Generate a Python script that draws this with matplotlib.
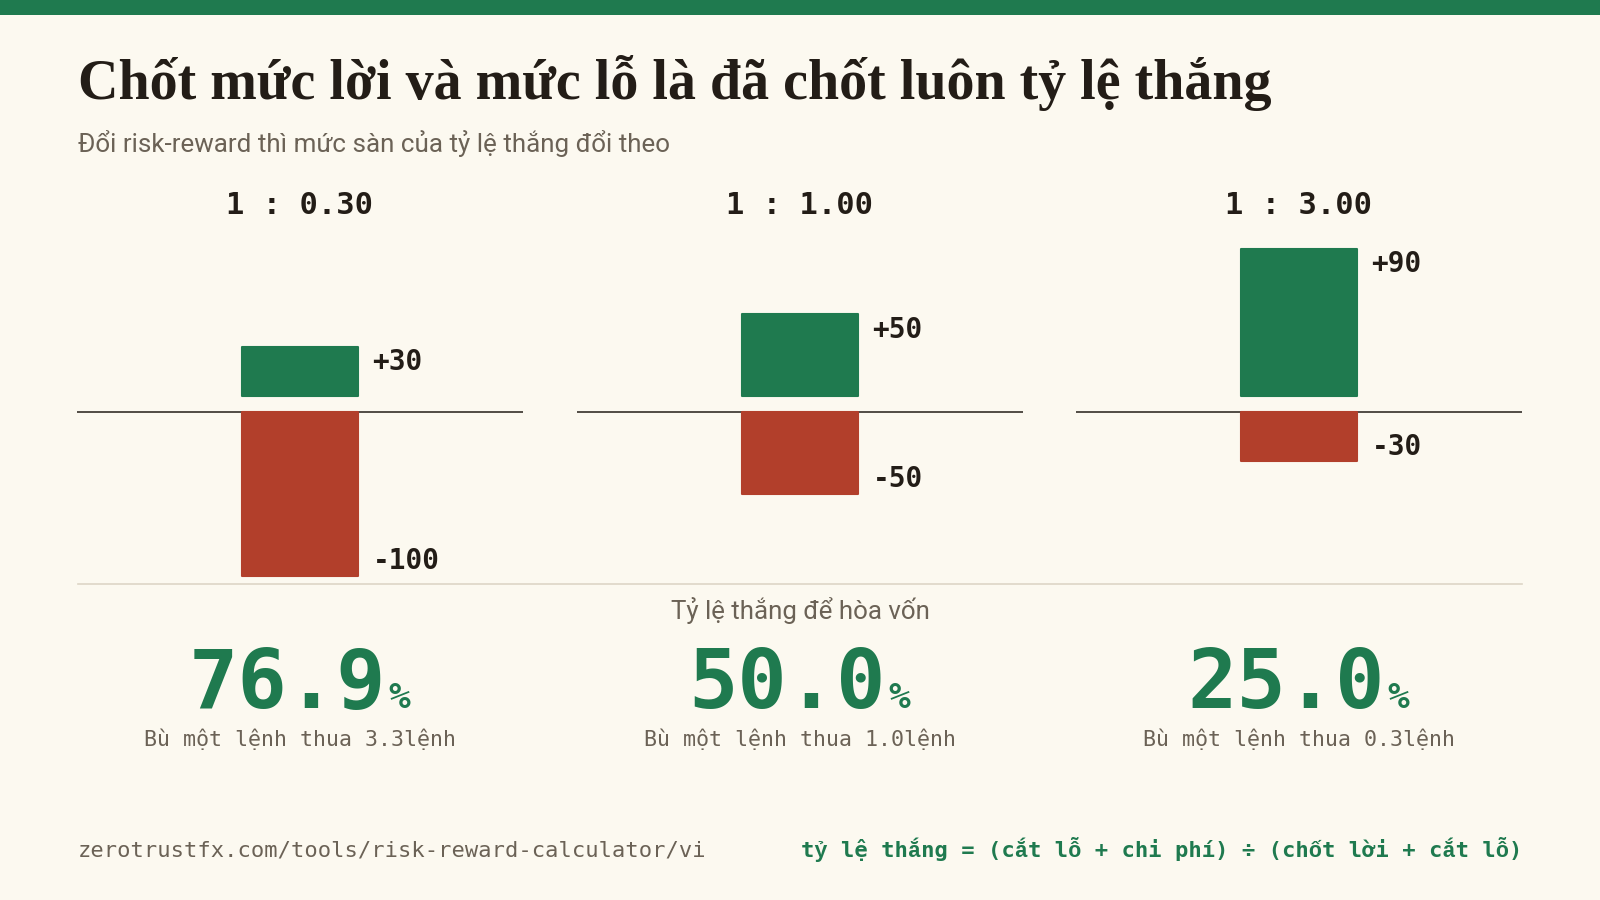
import matplotlib
matplotlib.use("Agg")
import matplotlib.pyplot as plt
from matplotlib.patches import Rectangle
from matplotlib.lines import Line2D

# data
ratio_labels = ["1 : 0.30", "1 : 1.00", "1 : 3.00"]
reward = [30, 50, 90]
risk = [100, 50, 30]
win_rate = ["76.9", "50.0", "25.0"]
recover = ["3.3", "1.0", "0.3"]

title = "Chốt mức lời và mức lỗ là đã chốt luôn tỷ lệ thắng"
subtitle = "Đổi risk-reward thì mức sàn của tỷ lệ thắng đổi theo"
mid_label = "Tỷ lệ thắng để hòa vốn"
footer_url = "zerotrustfx.com/tools/risk-reward-calculator/vi"
footer_formula = "tỷ lệ thắng = (cắt lỗ + chi phí) ÷ (chốt lời + cắt lỗ)"

BG = "#fcf9f0"
GREEN = "#1f7a4f"
RED = "#b23f2b"
INK = "#231d17"
GREY = "#6b6256"
RULE = "#ddd6c6"

W, H = 1568.0, 882.0  # reference pixel space


def fx(x):
    return x / W


def fy(y):
    return 1 - y / H


fig = plt.figure(figsize=(16, 9), dpi=100, facecolor=BG)

# top band
fig.add_artist(Rectangle((0, fy(15)), 1, 15 / H, transform=fig.transFigure,
                         color=GREEN, lw=0))

fig.text(fx(76), fy(97), title, fontsize=40.3, fontweight="bold",
         family=["Liberation Serif", "DejaVu Serif"], color=INK,
         va="baseline", ha="left")
fig.text(fx(76), fy(141), subtitle, fontsize=18.75, family="Roboto",
         color=GREY, va="center", ha="left")

mono = ["DejaVu Sans Mono", "Liberation Mono", "DejaVu Sans"]
centers = [294, 784, 1273]
panel_w = 437
gap = 10

for i, cx in enumerate(centers):
    fig.text(fx(cx), fy(201), ratio_labels[i], fontsize=22, fontweight="bold",
             family=mono, color=INK, ha="center", va="center")

    left = cx - panel_w / 2
    ax = fig.add_axes([fx(left), fy(572), panel_w / W, (572 - 220) / H])
    ax.set_xlim(-0.5, 0.5)
    ax.set_ylim(-105, 115)
    ax.axis("off")
    ax.axhline(0, color=INK, lw=1.1, zorder=1)

    bw = 113 / panel_w
    ax.bar(0, reward[i], bottom=gap, width=bw, color=GREEN, edgecolor=GREEN,
           lw=1.5, joinstyle="round", zorder=2)
    ax.bar(0, -risk[i], width=bw, color=RED, edgecolor=RED,
           lw=1.5, joinstyle="round", zorder=2)

    lx = 71 / panel_w
    ax.text(lx, gap + reward[i] - 9.5, "+%d" % reward[i], fontsize=20,
            fontweight="bold", family=mono, color=INK, ha="left", va="center")
    ax.text(lx, -risk[i] + 9, "-%d" % risk[i], fontsize=20,
            fontweight="bold", family=mono, color=INK, ha="left", va="center")

    # big break-even number
    fig.text(fx(cx + 84), fy(694), win_rate[i], fontsize=59, fontweight="bold",
             family=mono, color=GREEN, ha="right", va="baseline")
    fig.text(fx(cx + 87), fy(694), "%", fontsize=26, fontweight="bold",
             family=mono, color=GREEN, ha="left", va="baseline")
    fig.text(fx(cx), fy(724), "Bù một lệnh thua " + recover[i] + "lệnh",
             fontsize=15.6, family=mono, color=GREY, ha="center", va="center")

fig.add_artist(Line2D([fx(76), fx(1492)], [fy(572), fy(572)],
                      transform=fig.transFigure, color=RULE, lw=1.2))
fig.text(fx(784), fy(598), mid_label, fontsize=18.6, family="Roboto",
         color=GREY, ha="center", va="center")

fig.text(fx(76), fy(833), footer_url, fontsize=15.9, family=mono,
         color=GREY, ha="left", va="center")
fig.text(fx(1492), fy(833), footer_formula, fontsize=15.9, fontweight="bold",
         family=mono, color=GREEN, ha="right", va="center")

fig.savefig("out.png", dpi=100, facecolor=BG)
